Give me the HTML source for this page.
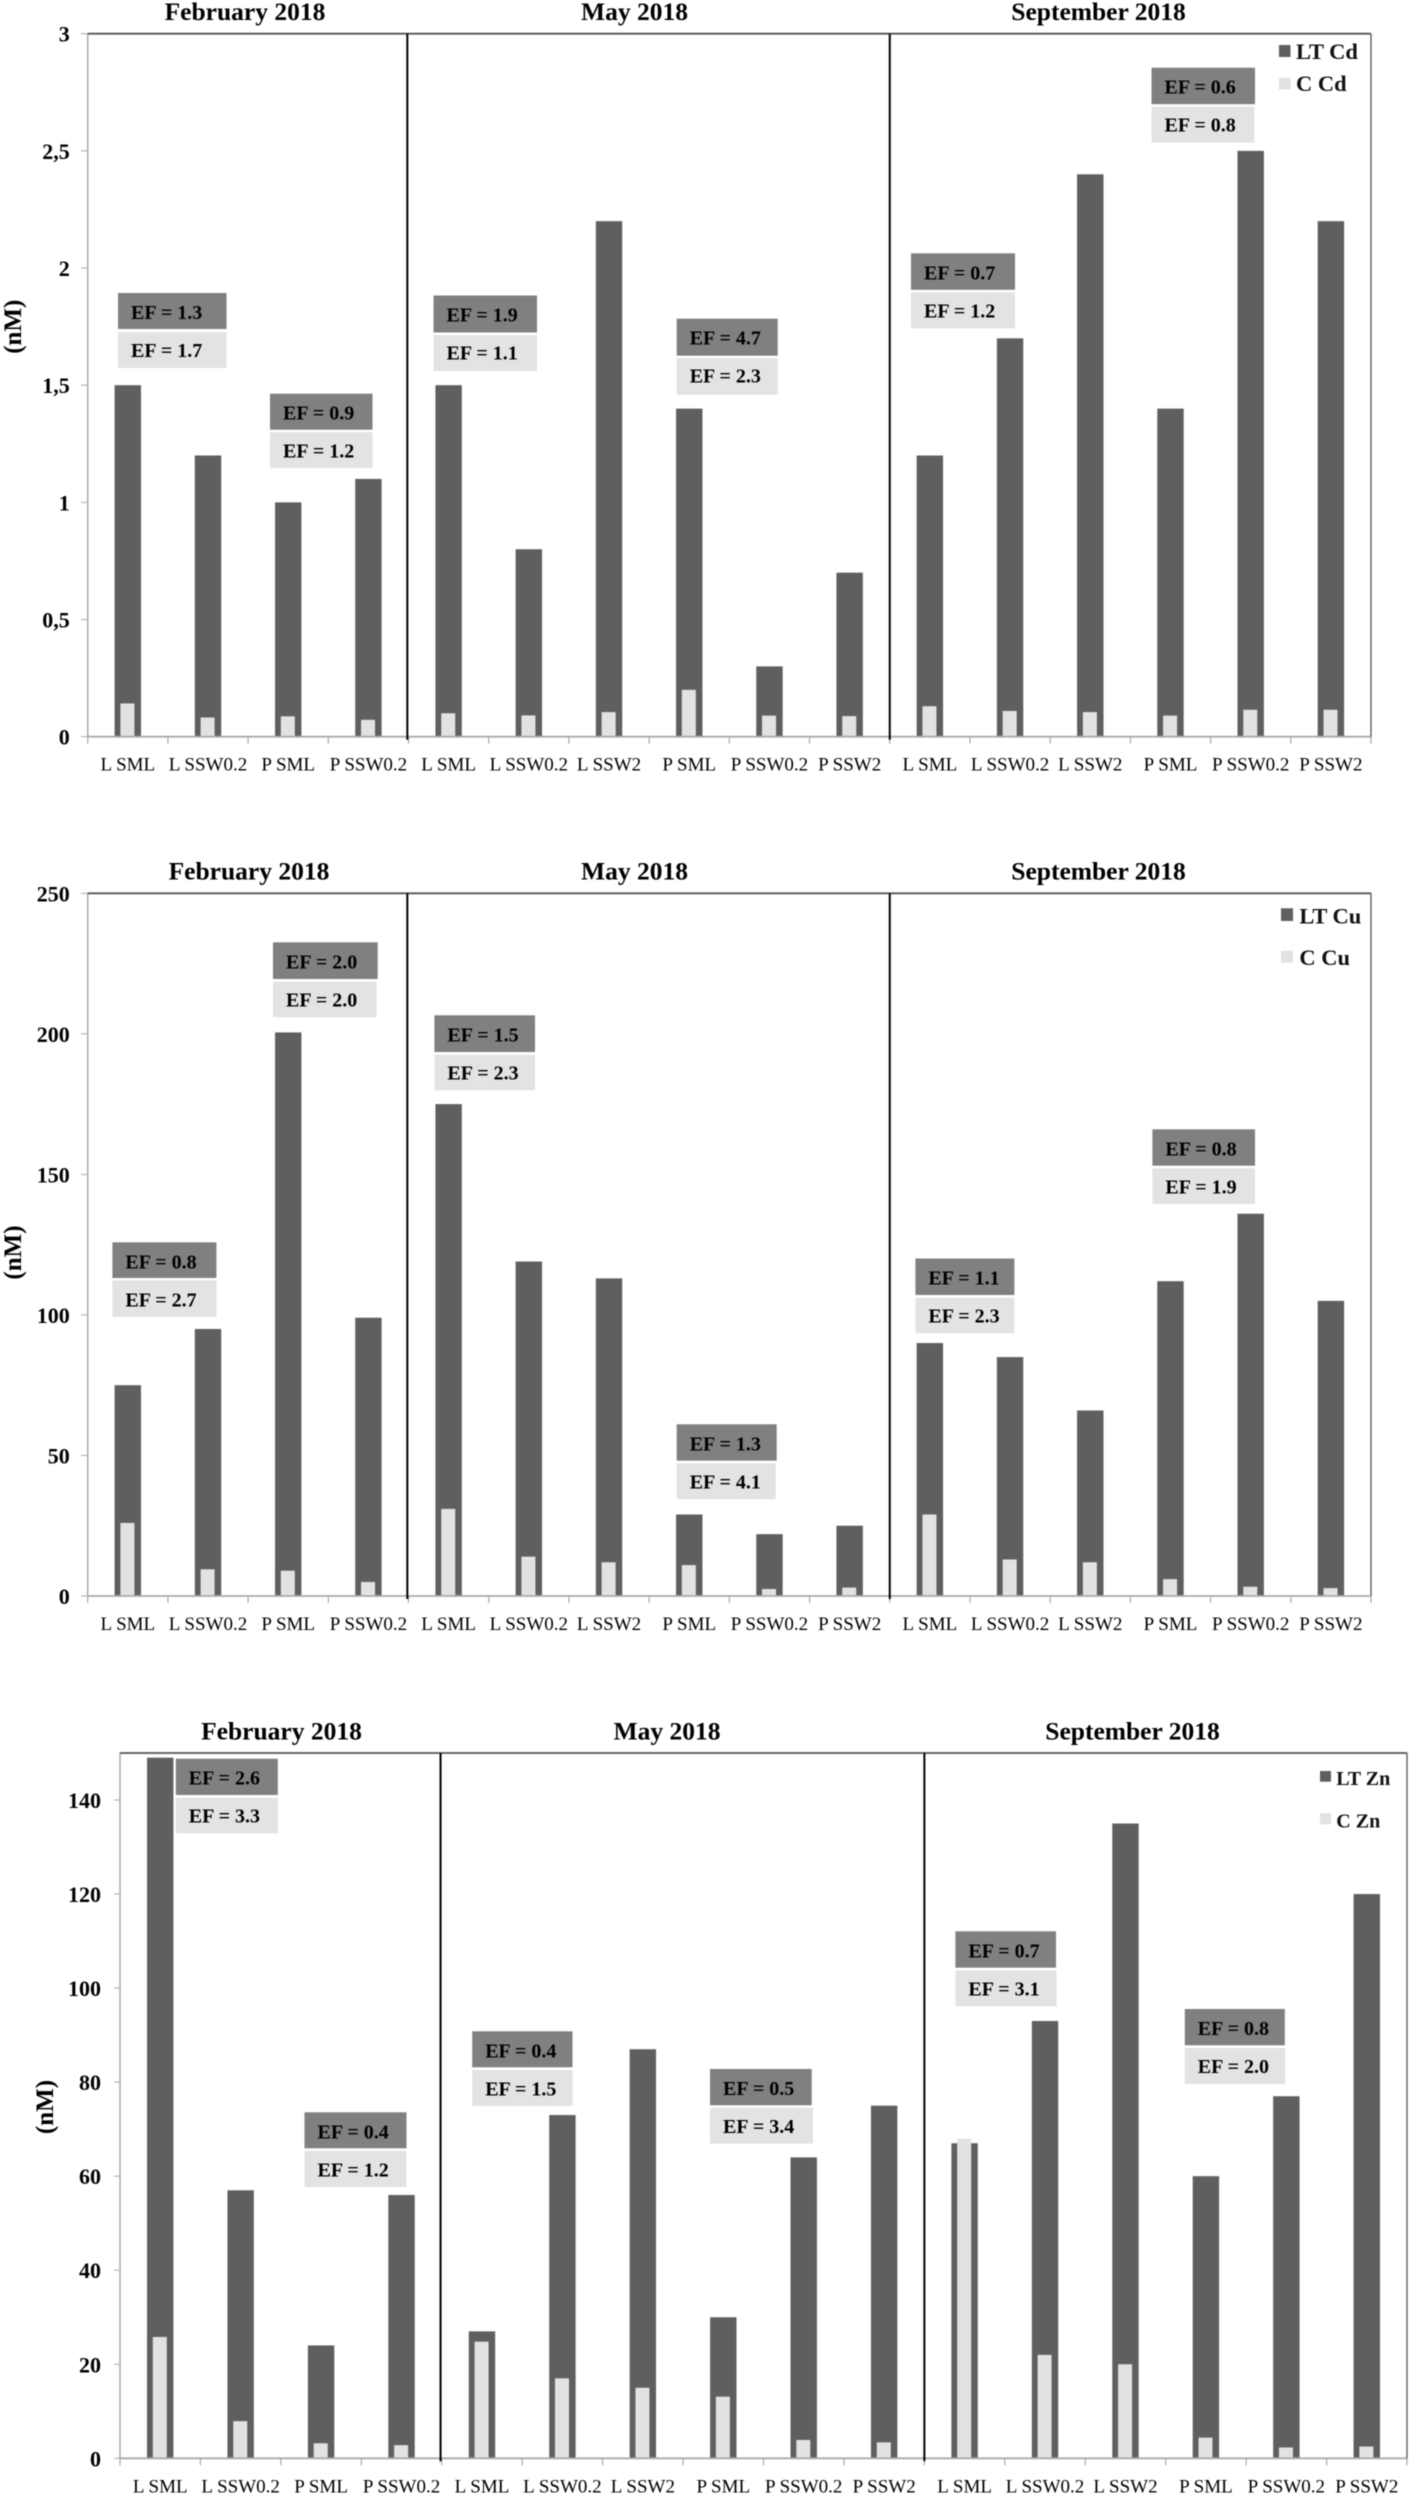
<!DOCTYPE html>
<html lang="en">
<head>
<meta charset="utf-8">
<title>Enrichment factors for Cd, Cu and Zn in 2018</title>
<style>
html,body{margin:0;padding:0;background:#fff;}
#figure{display:block;width:1410px;height:2500px;filter:blur(0.45px);}
text{font-family:"Liberation Serif",serif;fill:#000;}
.title{font-size:25.5px;font-weight:bold;text-anchor:middle;}
.ylab{font-size:25px;font-weight:bold;text-anchor:middle;}
.leg{font-size:22.5px;font-weight:bold;fill:#111;}
.leg3{font-size:20px;font-weight:bold;fill:#111;}
.ef{font-size:20px;font-weight:bold;}
.efd{fill:#808080;}
.efl{fill:#e3e3e3;}
.ltm{fill:#5f5f5f;}
.cm{fill:#e2e2e2;}
</style>
</head>
<body>
<svg id="figure" xmlns="http://www.w3.org/2000/svg" width="1410" height="2500" viewBox="0 0 1410 2500">
<rect x="0" y="0" width="1410" height="2500" fill="#fff"/>

<g id="marks-cd"></g>
<g id="marks-cu"></g>
<g id="marks-zn"></g>

<!-- Cd chart annotations -->
<g>
<text class="title" x="245" y="20">February 2018</text>
<text class="title" x="634.5" y="20">May 2018</text>
<text class="title" x="1098.5" y="20">September 2018</text>
<text class="ylab" transform="translate(21,326.7) rotate(-90)">(nM)</text>
<rect class="ltm" x="1279" y="45" width="11.5" height="12"/>
<text class="leg" x="1296" y="59">LT Cd</text>
<rect class="cm" x="1279" y="78" width="11.5" height="11.5"/>
<text class="leg" x="1296" y="91">C Cd</text>

<g transform="translate(118,293)"><rect class="efd" width="108.5" height="36"/><rect class="efl" y="39" width="108.5" height="36"/><text class="ef" x="13" y="26">EF = 1.3</text><text class="ef" x="13" y="64">EF = 1.7</text></g>
<g transform="translate(270,393.7)"><rect class="efd" width="102.5" height="36"/><rect class="efl" y="38.5" width="102.5" height="36"/><text class="ef" x="13" y="26">EF = 0.9</text><text class="ef" x="13" y="64">EF = 1.2</text></g>
<g transform="translate(433.5,295.5)"><rect class="efd" width="103.5" height="37"/><rect class="efl" y="39.5" width="103.5" height="36"/><text class="ef" x="13" y="26">EF = 1.9</text><text class="ef" x="13" y="64">EF = 1.1</text></g>
<g transform="translate(676.7,318.7)"><rect class="efd" width="101" height="37"/><rect class="efl" y="39.5" width="101" height="36.5"/><text class="ef" x="13" y="26">EF = 4.7</text><text class="ef" x="13" y="64">EF = 2.3</text></g>
<g transform="translate(911,253.3)"><rect class="efd" width="104" height="36.5"/><rect class="efl" y="39" width="104" height="36"/><text class="ef" x="13" y="26">EF = 0.7</text><text class="ef" x="13" y="64">EF = 1.2</text></g>
<g transform="translate(1151.5,67.7)"><rect class="efd" width="103.5" height="36.5"/><rect class="efl" y="39" width="103" height="36"/><text class="ef" x="13" y="26">EF = 0.6</text><text class="ef" x="13" y="64">EF = 0.8</text></g>
</g>

<!-- Cu chart annotations -->
<g>
<text class="title" x="249" y="879.3">February 2018</text>
<text class="title" x="634.5" y="879.3">May 2018</text>
<text class="title" x="1098.5" y="879.3">September 2018</text>
<text class="ylab" transform="translate(21,1252.5) rotate(-90)">(nM)</text>
<rect class="ltm" x="1281" y="908.3" width="12" height="12.7"/>
<text class="leg" x="1299.4" y="923.3">LT Cu</text>
<rect class="cm" x="1281" y="950.7" width="12" height="12"/>
<text class="leg" x="1299.4" y="965">C Cu</text>

<g transform="translate(112.4,1242.3)"><rect class="efd" width="104" height="35.7"/><rect class="efl" y="38" width="104" height="36.7"/><text class="ef" x="13" y="26">EF = 0.8</text><text class="ef" x="13" y="64">EF = 2.7</text></g>
<g transform="translate(273,942.3)"><rect class="efd" width="104.7" height="36.7"/><rect class="efl" y="39.4" width="103.5" height="35.6"/><text class="ef" x="13" y="26">EF = 2.0</text><text class="ef" x="13" y="64">EF = 2.0</text></g>
<g transform="translate(434.4,1015.3)"><rect class="efd" width="100.6" height="36.7"/><rect class="efl" y="39.4" width="100.6" height="35.6"/><text class="ef" x="13" y="26">EF = 1.5</text><text class="ef" x="13" y="64">EF = 2.3</text></g>
<g transform="translate(676.7,1424.3)"><rect class="efd" width="100" height="36.4"/><rect class="efl" y="39" width="99" height="36"/><text class="ef" x="13" y="26">EF = 1.3</text><text class="ef" x="13" y="64">EF = 4.1</text></g>
<g transform="translate(915.4,1258.5)"><rect class="efd" width="99" height="36.5"/><rect class="efl" y="39.2" width="99" height="35.6"/><text class="ef" x="13" y="26">EF = 1.1</text><text class="ef" x="13" y="64">EF = 2.3</text></g>
<g transform="translate(1152.4,1129.3)"><rect class="efd" width="102.6" height="36.4"/><rect class="efl" y="39" width="102.6" height="35.7"/><text class="ef" x="13" y="26">EF = 0.8</text><text class="ef" x="13" y="64">EF = 1.9</text></g>
</g>

<!-- Zn chart annotations -->
<g>
<text class="title" x="281.5" y="1739.3">February 2018</text>
<text class="title" x="667" y="1739.3">May 2018</text>
<text class="title" x="1132.5" y="1739.3">September 2018</text>
<text class="ylab" transform="translate(53,2107) rotate(-90)">(nM)</text>
<rect class="ltm" x="1320" y="1771" width="11" height="10.7"/>
<text class="leg3" x="1336.3" y="1785">LT Zn</text>
<rect class="cm" x="1320" y="1813.3" width="11" height="11"/>
<text class="leg3" x="1336.3" y="1827.3">C Zn</text>

<g transform="translate(175.8,1758.7)"><rect class="efd" width="102" height="36.3"/><rect class="efl" y="39" width="102" height="35.6"/><text class="ef" x="13" y="26">EF = 2.6</text><text class="ef" x="13" y="64">EF = 3.3</text></g>
<g transform="translate(304.5,2112.3)"><rect class="efd" width="102" height="36"/><rect class="efl" y="38.4" width="102" height="36.3"/><text class="ef" x="13" y="26">EF = 0.4</text><text class="ef" x="13" y="64">EF = 1.2</text></g>
<g transform="translate(472.2,2031.3)"><rect class="efd" width="100.3" height="36"/><rect class="efl" y="38.7" width="100.3" height="36"/><text class="ef" x="13" y="26">EF = 0.4</text><text class="ef" x="13" y="64">EF = 1.5</text></g>
<g transform="translate(710,2069)"><rect class="efd" width="101.7" height="36.3"/><rect class="efl" y="38.7" width="103" height="36"/><text class="ef" x="13" y="26">EF = 0.5</text><text class="ef" x="13" y="64">EF = 3.4</text></g>
<g transform="translate(955.4,1931.3)"><rect class="efd" width="100.6" height="36.4"/><rect class="efl" y="39" width="101.2" height="36"/><text class="ef" x="13" y="26">EF = 0.7</text><text class="ef" x="13" y="64">EF = 3.1</text></g>
<g transform="translate(1184.8,2009)"><rect class="efd" width="100" height="36.3"/><rect class="efl" y="39" width="100.5" height="36"/><text class="ef" x="13" y="26">EF = 0.8</text><text class="ef" x="13" y="64">EF = 2.0</text></g>
</g>
</svg>

<script>
var categories = ["L SML","L SSW0.2","P SML","P SSW0.2","L SML","L SSW0.2","L SSW2","P SML","P SSW0.2","P SSW2","L SML","L SSW0.2","L SSW2","P SML","P SSW0.2","P SSW2"];

var cdTotal = [1.5,1.2,1.0,1.1,1.5,0.8,2.2,1.4,0.3,0.7,1.2,1.7,2.4,1.4,2.5,2.2];
var cdCarbon = [0.142,0.082,0.087,0.072,0.1,0.091,0.105,0.2,0.09,0.088,0.13,0.11,0.105,0.09,0.115,0.115];
var cdTickValues = [0,0.5,1,1.5,2,2.5,3];
var cdTickLabels = ["0","0,5","1","1,5","2","2,5","3"];

var cuTotal = [75,95,200.5,99,175,119,113,29,22,25,90,85,66,112,136,105];
var cuCarbon = [26,9.5,9,5,31,14,12,11,2.5,3,29,13,12,6,3.3,2.8];
var cuTickValues = [0,50,100,150,200,250];
var cuTickLabels = ["0","50","100","150","200","250"];

var znTotal = [149,57,24,56,27,73,87,30,64,75,67,93,135,60,77,120];
var znCarbon = [25.8,7.9,3.2,2.8,24.8,17,15,13.1,3.9,3.4,68,22,20,4.4,2.3,2.5];
var znTickValues = [0,20,40,60,80,100,120,140];
var znTickLabels = ["0","20","40","60","80","100","120","140"];

var SVG_NS = "http://www.w3.org/2000/svg";

function makeLine(parent, name, x1, y1, x2, y2, color, width) {
  var el = document.createElementNS(SVG_NS, "line");
  
  
  el.setAttribute("x1", x1);
  el.setAttribute("y1", y1);
  el.setAttribute("x2", x2);
  el.setAttribute("y2", y2);
  el.setAttribute("stroke", color);
  el.setAttribute("stroke-width", width);
  parent.appendChild(el);
  return el;
}

function makeBar(parent, name, cls, x, y, w, h) {
  var el = document.createElementNS(SVG_NS, "rect");
  
  
  el.setAttribute("class", cls);
  el.setAttribute("x", x);
  el.setAttribute("y", y);
  el.setAttribute("width", w);
  el.setAttribute("height", h);
  parent.appendChild(el);
  return el;
}

function makeText(parent, name, x, y, size, weight, anchor, content) {
  var el = document.createElementNS(SVG_NS, "text");
  
  
  el.setAttribute("x", x);
  el.setAttribute("y", y);
  el.setAttribute("font-size", size);
  el.setAttribute("font-weight", weight);
  el.setAttribute("text-anchor", anchor);
  el.textContent = content;
  parent.appendChild(el);
  return el;
}

function drawChart(id, metal, total, carbon, tickValues, tickLabels, yMax, left, right, top, zero, labelRight, tickX) {
  var g = document.getElementById(id);
  var step = (right - left) / categories.length;
  function xScale(i) { return left + step * i; }
  function yScale(v) { return zero - (v / yMax) * (zero - top); }

  for (var i = 0; i < categories.length; i++) {
    var cx = xScale(i + 0.5);
    var yT = yScale(total[i]);
    makeBar(g, metal + "-bar-lt-" + i, "ltm", cx - 13.2, yT, 26.4, zero - yT);
    var yC = yScale(carbon[i]);
    makeBar(g, metal + "-bar-c-" + i, "cm", cx - 7.4, yC, 14, zero - yC);
    makeText(g, metal + "-x-label-" + i, cx, zero + 34, 19, "normal", "middle", categories[i]);
  }

  for (var t = 0; t <= categories.length; t++) {
    makeLine(g, metal + "-x-tick-" + t, xScale(t), zero, xScale(t), zero + 7, "#999", 1);
  }
  for (var k = 0; k < tickValues.length; k++) {
    var ty = yScale(tickValues[k]);
    makeLine(g, metal + "-y-tick-" + k, tickX, ty, left, ty, "#aaa", 1);
    makeText(g, metal + "-y-label-" + k, labelRight, ty + 8, 22, "bold", "end", tickLabels[k]);
  }

  makeLine(g, metal + "-left-axis", left, top, left, zero, "#aaa", 1.5);
  makeLine(g, metal + "-x-axis", left, zero, right, zero, "#aaa", 1.8);
  makeLine(g, metal + "-top-border", left, top, right, top, "#555", 1.8);
  makeLine(g, metal + "-right-border", right, top, right, zero, "#555", 1.3);
  makeLine(g, metal + "-divider-feb-may", xScale(4) - 1.2, top, xScale(4) - 1.2, zero + 3, "#000", 2);
  makeLine(g, metal + "-divider-may-sep", xScale(10), top, xScale(10), zero + 3, "#000", 2);
}

drawChart("marks-cd", "cd", cdTotal, cdCarbon, cdTickValues, cdTickLabels, 3, 87.7, 1371, 33.7, 736.7, 69.7, 81);
drawChart("marks-cu", "cu", cuTotal, cuCarbon, cuTickValues, cuTickLabels, 250, 87.7, 1371, 893.3, 1596, 69.7, 81);
drawChart("marks-zn", "zn", znTotal, znCarbon, znTickValues, znTickLabels, 150, 120, 1407, 1753, 2458.3, 101, 114);
</script>
</body>
</html>
